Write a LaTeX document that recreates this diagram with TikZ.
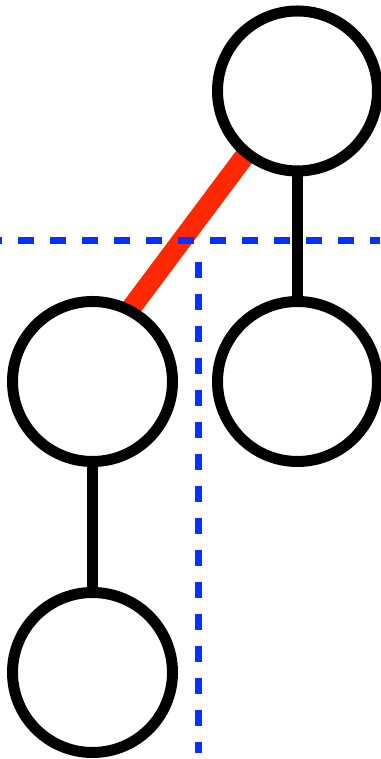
\documentclass[tikz,border=0pt]{standalone}
\usepackage{xcolor}
\usepackage{tikz}
\usetikzlibrary{positioning,backgrounds}
\definecolor{cutblue}{RGB}{8, 48, 255}
\definecolor{cutred}{RGB}{255, 40, 0}

\begin{document}
\begin{tikzpicture}[x=1pt, y=1pt,
        vertex/.style={draw, circle, fill=white, line width=11pt, minimum size=160pt, inner sep=0pt},
        treeedge/.style={draw, line width=11pt},
        cutedge/.style={draw=cutred, line width=20pt},
        cutline/.style={draw=cutblue, line width=7.5pt, dash pattern=on 16pt off 16pt}]
        \useasboundingbox (0,0) rectangle (380,759);

        % Vertices
        \node[vertex] (top) at (297.5, 668) {};
        \node[vertex] (left) at (92.5, 377.5) {};
        \node[vertex] (right) at (297.5, 377.5) {};
        \node[vertex] (bottom) at (92.5, 86.5) {};

        % Edges (behind the vertices)
        \begin{scope}[on background layer]
            \draw[treeedge] (top) -- (right);
            \draw[treeedge] (left) -- (bottom);
            \draw[cutedge, shorten <=-10pt, shorten >=-10pt] (top.231.7) -- (left.62);
        \end{scope}

        % Cut lines
        \coordinate (cutW) at (-13.7, 518.7);
        \coordinate (cutE) at (380, 518.7);
        \coordinate (cutN) at (198.5, 497.3);
        \coordinate (cutS) at (198.5, 6);
        \draw[cutline] (cutW) -- (cutE);
        \draw[cutline] (cutN) -- (cutS);
    \end{tikzpicture}
\end{document}
